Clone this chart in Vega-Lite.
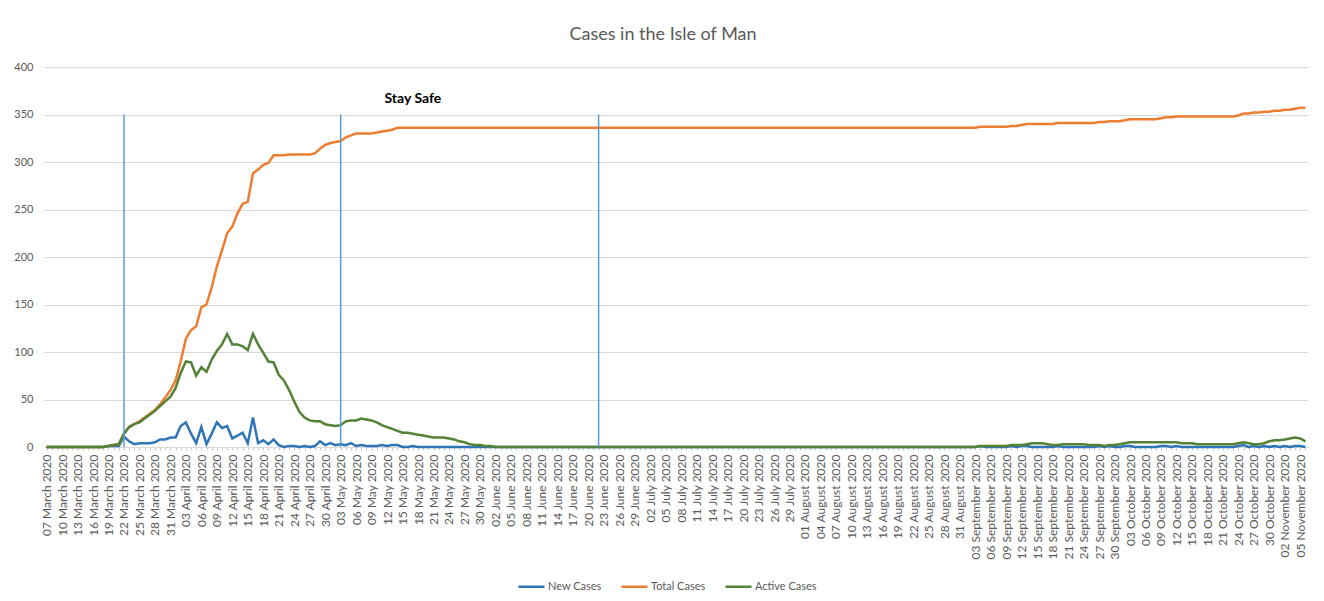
{
"$schema": "https://vega.github.io/schema/vega-lite/v6.json",
"width": 1264, "height": 380,
"autosize": {"type": "none"},
"padding": {"left": 44, "top": 67, "right": 16, "bottom": 154},
"background": "white",
"title": {"text": "Cases in the Isle of Man", "fontSize": 18, "font": "Lato", "fontWeight": "normal", "color": "#595959", "offset": 17, "anchor": "middle", "dx": -13},
"config": {"view": {"stroke": null}},
"datasets": {
"cases": [
{"date":"2020-03-07","New Cases":0,"Total Cases":0,"Active Cases":0},
{"date":"2020-03-08","New Cases":0,"Total Cases":0,"Active Cases":0},
{"date":"2020-03-09","New Cases":0,"Total Cases":0,"Active Cases":0},
{"date":"2020-03-10","New Cases":0,"Total Cases":0,"Active Cases":0},
{"date":"2020-03-11","New Cases":0,"Total Cases":0,"Active Cases":0},
{"date":"2020-03-12","New Cases":0,"Total Cases":0,"Active Cases":0},
{"date":"2020-03-13","New Cases":0,"Total Cases":0,"Active Cases":0},
{"date":"2020-03-14","New Cases":0,"Total Cases":0,"Active Cases":0},
{"date":"2020-03-15","New Cases":0,"Total Cases":0,"Active Cases":0},
{"date":"2020-03-16","New Cases":0,"Total Cases":0,"Active Cases":0},
{"date":"2020-03-17","New Cases":0,"Total Cases":0,"Active Cases":0},
{"date":"2020-03-18","New Cases":0,"Total Cases":0,"Active Cases":0},
{"date":"2020-03-19","New Cases":1,"Total Cases":1,"Active Cases":1},
{"date":"2020-03-20","New Cases":1,"Total Cases":2,"Active Cases":2},
{"date":"2020-03-21","New Cases":1,"Total Cases":3,"Active Cases":3},
{"date":"2020-03-22","New Cases":11,"Total Cases":14,"Active Cases":14},
{"date":"2020-03-23","New Cases":6,"Total Cases":21,"Active Cases":21},
{"date":"2020-03-24","New Cases":3,"Total Cases":24,"Active Cases":24},
{"date":"2020-03-25","New Cases":4,"Total Cases":27,"Active Cases":26},
{"date":"2020-03-26","New Cases":4,"Total Cases":31,"Active Cases":30},
{"date":"2020-03-27","New Cases":4,"Total Cases":35,"Active Cases":34},
{"date":"2020-03-28","New Cases":5,"Total Cases":39,"Active Cases":38},
{"date":"2020-03-29","New Cases":8,"Total Cases":45,"Active Cases":43},
{"date":"2020-03-30","New Cases":8,"Total Cases":52,"Active Cases":48},
{"date":"2020-03-31","New Cases":10,"Total Cases":60,"Active Cases":53},
{"date":"2020-04-01","New Cases":10,"Total Cases":70,"Active Cases":62},
{"date":"2020-04-02","New Cases":22,"Total Cases":90,"Active Cases":78},
{"date":"2020-04-03","New Cases":26,"Total Cases":114,"Active Cases":90},
{"date":"2020-04-04","New Cases":14,"Total Cases":123,"Active Cases":89},
{"date":"2020-04-05","New Cases":4,"Total Cases":127,"Active Cases":75},
{"date":"2020-04-06","New Cases":21,"Total Cases":147,"Active Cases":84},
{"date":"2020-04-07","New Cases":3,"Total Cases":150,"Active Cases":79},
{"date":"2020-04-08","New Cases":14,"Total Cases":168,"Active Cases":92},
{"date":"2020-04-09","New Cases":26,"Total Cases":190,"Active Cases":101},
{"date":"2020-04-10","New Cases":20,"Total Cases":207,"Active Cases":108},
{"date":"2020-04-11","New Cases":22,"Total Cases":225,"Active Cases":119},
{"date":"2020-04-12","New Cases":9,"Total Cases":232,"Active Cases":108},
{"date":"2020-04-13","New Cases":12,"Total Cases":246,"Active Cases":108},
{"date":"2020-04-14","New Cases":15,"Total Cases":256,"Active Cases":106},
{"date":"2020-04-15","New Cases":4,"Total Cases":258,"Active Cases":102},
{"date":"2020-04-16","New Cases":31,"Total Cases":288,"Active Cases":119},
{"date":"2020-04-17","New Cases":4,"Total Cases":292,"Active Cases":108},
{"date":"2020-04-18","New Cases":7,"Total Cases":297,"Active Cases":99},
{"date":"2020-04-19","New Cases":3,"Total Cases":299,"Active Cases":90},
{"date":"2020-04-20","New Cases":8,"Total Cases":307,"Active Cases":89},
{"date":"2020-04-21","New Cases":2,"Total Cases":307,"Active Cases":76},
{"date":"2020-04-22","New Cases":0,"Total Cases":307,"Active Cases":70},
{"date":"2020-04-23","New Cases":1,"Total Cases":308,"Active Cases":60},
{"date":"2020-04-24","New Cases":1,"Total Cases":308,"Active Cases":48},
{"date":"2020-04-25","New Cases":0,"Total Cases":308,"Active Cases":37},
{"date":"2020-04-26","New Cases":1,"Total Cases":308,"Active Cases":31},
{"date":"2020-04-27","New Cases":0,"Total Cases":308,"Active Cases":28},
{"date":"2020-04-28","New Cases":1,"Total Cases":309,"Active Cases":27},
{"date":"2020-04-29","New Cases":6,"Total Cases":314,"Active Cases":27},
{"date":"2020-04-30","New Cases":2,"Total Cases":318,"Active Cases":24},
{"date":"2020-05-01","New Cases":4,"Total Cases":320,"Active Cases":23},
{"date":"2020-05-02","New Cases":2,"Total Cases":321,"Active Cases":22},
{"date":"2020-05-03","New Cases":3,"Total Cases":322,"Active Cases":23},
{"date":"2020-05-04","New Cases":2,"Total Cases":326,"Active Cases":27},
{"date":"2020-05-05","New Cases":4,"Total Cases":328,"Active Cases":28},
{"date":"2020-05-06","New Cases":1,"Total Cases":330,"Active Cases":28},
{"date":"2020-05-07","New Cases":2,"Total Cases":330,"Active Cases":30},
{"date":"2020-05-08","New Cases":1,"Total Cases":330,"Active Cases":29},
{"date":"2020-05-09","New Cases":1,"Total Cases":330,"Active Cases":28},
{"date":"2020-05-10","New Cases":1,"Total Cases":331,"Active Cases":26},
{"date":"2020-05-11","New Cases":2,"Total Cases":332,"Active Cases":23},
{"date":"2020-05-12","New Cases":1,"Total Cases":333,"Active Cases":21},
{"date":"2020-05-13","New Cases":2,"Total Cases":334,"Active Cases":19},
{"date":"2020-05-14","New Cases":2,"Total Cases":336,"Active Cases":17},
{"date":"2020-05-15","New Cases":0,"Total Cases":336,"Active Cases":15},
{"date":"2020-05-16","New Cases":0,"Total Cases":336,"Active Cases":15},
{"date":"2020-05-17","New Cases":1,"Total Cases":336,"Active Cases":14},
{"date":"2020-05-18","New Cases":0,"Total Cases":336,"Active Cases":13},
{"date":"2020-05-19","New Cases":0,"Total Cases":336,"Active Cases":12},
{"date":"2020-05-20","New Cases":0,"Total Cases":336,"Active Cases":11},
{"date":"2020-05-21","New Cases":0,"Total Cases":336,"Active Cases":10},
{"date":"2020-05-22","New Cases":0,"Total Cases":336,"Active Cases":10},
{"date":"2020-05-23","New Cases":0,"Total Cases":336,"Active Cases":10},
{"date":"2020-05-24","New Cases":0,"Total Cases":336,"Active Cases":9},
{"date":"2020-05-25","New Cases":0,"Total Cases":336,"Active Cases":8},
{"date":"2020-05-26","New Cases":0,"Total Cases":336,"Active Cases":6},
{"date":"2020-05-27","New Cases":0,"Total Cases":336,"Active Cases":5},
{"date":"2020-05-28","New Cases":0,"Total Cases":336,"Active Cases":3},
{"date":"2020-05-29","New Cases":0,"Total Cases":336,"Active Cases":2},
{"date":"2020-05-30","New Cases":0,"Total Cases":336,"Active Cases":2},
{"date":"2020-05-31","New Cases":0,"Total Cases":336,"Active Cases":1},
{"date":"2020-06-01","New Cases":0,"Total Cases":336,"Active Cases":1},
{"date":"2020-06-02","New Cases":0,"Total Cases":336,"Active Cases":0},
{"date":"2020-06-03","New Cases":0,"Total Cases":336,"Active Cases":0},
{"date":"2020-06-04","New Cases":0,"Total Cases":336,"Active Cases":0},
{"date":"2020-06-05","New Cases":0,"Total Cases":336,"Active Cases":0},
{"date":"2020-06-06","New Cases":0,"Total Cases":336,"Active Cases":0},
{"date":"2020-06-07","New Cases":0,"Total Cases":336,"Active Cases":0},
{"date":"2020-06-08","New Cases":0,"Total Cases":336,"Active Cases":0},
{"date":"2020-06-09","New Cases":0,"Total Cases":336,"Active Cases":0},
{"date":"2020-06-10","New Cases":0,"Total Cases":336,"Active Cases":0},
{"date":"2020-06-11","New Cases":0,"Total Cases":336,"Active Cases":0},
{"date":"2020-06-12","New Cases":0,"Total Cases":336,"Active Cases":0},
{"date":"2020-06-13","New Cases":0,"Total Cases":336,"Active Cases":0},
{"date":"2020-06-14","New Cases":0,"Total Cases":336,"Active Cases":0},
{"date":"2020-06-15","New Cases":0,"Total Cases":336,"Active Cases":0},
{"date":"2020-06-16","New Cases":0,"Total Cases":336,"Active Cases":0},
{"date":"2020-06-17","New Cases":0,"Total Cases":336,"Active Cases":0},
{"date":"2020-06-18","New Cases":0,"Total Cases":336,"Active Cases":0},
{"date":"2020-06-19","New Cases":0,"Total Cases":336,"Active Cases":0},
{"date":"2020-06-20","New Cases":0,"Total Cases":336,"Active Cases":0},
{"date":"2020-06-21","New Cases":0,"Total Cases":336,"Active Cases":0},
{"date":"2020-06-22","New Cases":0,"Total Cases":336,"Active Cases":0},
{"date":"2020-06-23","New Cases":0,"Total Cases":336,"Active Cases":0},
{"date":"2020-06-24","New Cases":0,"Total Cases":336,"Active Cases":0},
{"date":"2020-06-25","New Cases":0,"Total Cases":336,"Active Cases":0},
{"date":"2020-06-26","New Cases":0,"Total Cases":336,"Active Cases":0},
{"date":"2020-06-27","New Cases":0,"Total Cases":336,"Active Cases":0},
{"date":"2020-06-28","New Cases":0,"Total Cases":336,"Active Cases":0},
{"date":"2020-06-29","New Cases":0,"Total Cases":336,"Active Cases":0},
{"date":"2020-06-30","New Cases":0,"Total Cases":336,"Active Cases":0},
{"date":"2020-07-01","New Cases":0,"Total Cases":336,"Active Cases":0},
{"date":"2020-07-02","New Cases":0,"Total Cases":336,"Active Cases":0},
{"date":"2020-07-03","New Cases":0,"Total Cases":336,"Active Cases":0},
{"date":"2020-07-04","New Cases":0,"Total Cases":336,"Active Cases":0},
{"date":"2020-07-05","New Cases":0,"Total Cases":336,"Active Cases":0},
{"date":"2020-07-06","New Cases":0,"Total Cases":336,"Active Cases":0},
{"date":"2020-07-07","New Cases":0,"Total Cases":336,"Active Cases":0},
{"date":"2020-07-08","New Cases":0,"Total Cases":336,"Active Cases":0},
{"date":"2020-07-09","New Cases":0,"Total Cases":336,"Active Cases":0},
{"date":"2020-07-10","New Cases":0,"Total Cases":336,"Active Cases":0},
{"date":"2020-07-11","New Cases":0,"Total Cases":336,"Active Cases":0},
{"date":"2020-07-12","New Cases":0,"Total Cases":336,"Active Cases":0},
{"date":"2020-07-13","New Cases":0,"Total Cases":336,"Active Cases":0},
{"date":"2020-07-14","New Cases":0,"Total Cases":336,"Active Cases":0},
{"date":"2020-07-15","New Cases":0,"Total Cases":336,"Active Cases":0},
{"date":"2020-07-16","New Cases":0,"Total Cases":336,"Active Cases":0},
{"date":"2020-07-17","New Cases":0,"Total Cases":336,"Active Cases":0},
{"date":"2020-07-18","New Cases":0,"Total Cases":336,"Active Cases":0},
{"date":"2020-07-19","New Cases":0,"Total Cases":336,"Active Cases":0},
{"date":"2020-07-20","New Cases":0,"Total Cases":336,"Active Cases":0},
{"date":"2020-07-21","New Cases":0,"Total Cases":336,"Active Cases":0},
{"date":"2020-07-22","New Cases":0,"Total Cases":336,"Active Cases":0},
{"date":"2020-07-23","New Cases":0,"Total Cases":336,"Active Cases":0},
{"date":"2020-07-24","New Cases":0,"Total Cases":336,"Active Cases":0},
{"date":"2020-07-25","New Cases":0,"Total Cases":336,"Active Cases":0},
{"date":"2020-07-26","New Cases":0,"Total Cases":336,"Active Cases":0},
{"date":"2020-07-27","New Cases":0,"Total Cases":336,"Active Cases":0},
{"date":"2020-07-28","New Cases":0,"Total Cases":336,"Active Cases":0},
{"date":"2020-07-29","New Cases":0,"Total Cases":336,"Active Cases":0},
{"date":"2020-07-30","New Cases":0,"Total Cases":336,"Active Cases":0},
{"date":"2020-07-31","New Cases":0,"Total Cases":336,"Active Cases":0},
{"date":"2020-08-01","New Cases":0,"Total Cases":336,"Active Cases":0},
{"date":"2020-08-02","New Cases":0,"Total Cases":336,"Active Cases":0},
{"date":"2020-08-03","New Cases":0,"Total Cases":336,"Active Cases":0},
{"date":"2020-08-04","New Cases":0,"Total Cases":336,"Active Cases":0},
{"date":"2020-08-05","New Cases":0,"Total Cases":336,"Active Cases":0},
{"date":"2020-08-06","New Cases":0,"Total Cases":336,"Active Cases":0},
{"date":"2020-08-07","New Cases":0,"Total Cases":336,"Active Cases":0},
{"date":"2020-08-08","New Cases":0,"Total Cases":336,"Active Cases":0},
{"date":"2020-08-09","New Cases":0,"Total Cases":336,"Active Cases":0},
{"date":"2020-08-10","New Cases":0,"Total Cases":336,"Active Cases":0},
{"date":"2020-08-11","New Cases":0,"Total Cases":336,"Active Cases":0},
{"date":"2020-08-12","New Cases":0,"Total Cases":336,"Active Cases":0},
{"date":"2020-08-13","New Cases":0,"Total Cases":336,"Active Cases":0},
{"date":"2020-08-14","New Cases":0,"Total Cases":336,"Active Cases":0},
{"date":"2020-08-15","New Cases":0,"Total Cases":336,"Active Cases":0},
{"date":"2020-08-16","New Cases":0,"Total Cases":336,"Active Cases":0},
{"date":"2020-08-17","New Cases":0,"Total Cases":336,"Active Cases":0},
{"date":"2020-08-18","New Cases":0,"Total Cases":336,"Active Cases":0},
{"date":"2020-08-19","New Cases":0,"Total Cases":336,"Active Cases":0},
{"date":"2020-08-20","New Cases":0,"Total Cases":336,"Active Cases":0},
{"date":"2020-08-21","New Cases":0,"Total Cases":336,"Active Cases":0},
{"date":"2020-08-22","New Cases":0,"Total Cases":336,"Active Cases":0},
{"date":"2020-08-23","New Cases":0,"Total Cases":336,"Active Cases":0},
{"date":"2020-08-24","New Cases":0,"Total Cases":336,"Active Cases":0},
{"date":"2020-08-25","New Cases":0,"Total Cases":336,"Active Cases":0},
{"date":"2020-08-26","New Cases":0,"Total Cases":336,"Active Cases":0},
{"date":"2020-08-27","New Cases":0,"Total Cases":336,"Active Cases":0},
{"date":"2020-08-28","New Cases":0,"Total Cases":336,"Active Cases":0},
{"date":"2020-08-29","New Cases":0,"Total Cases":336,"Active Cases":0},
{"date":"2020-08-30","New Cases":0,"Total Cases":336,"Active Cases":0},
{"date":"2020-08-31","New Cases":0,"Total Cases":336,"Active Cases":0},
{"date":"2020-09-01","New Cases":0,"Total Cases":336,"Active Cases":0},
{"date":"2020-09-02","New Cases":0,"Total Cases":336,"Active Cases":0},
{"date":"2020-09-03","New Cases":0,"Total Cases":336,"Active Cases":0},
{"date":"2020-09-04","New Cases":1,"Total Cases":337,"Active Cases":1},
{"date":"2020-09-05","New Cases":0,"Total Cases":337,"Active Cases":1},
{"date":"2020-09-06","New Cases":0,"Total Cases":337,"Active Cases":1},
{"date":"2020-09-07","New Cases":0,"Total Cases":337,"Active Cases":1},
{"date":"2020-09-08","New Cases":0,"Total Cases":337,"Active Cases":1},
{"date":"2020-09-09","New Cases":0,"Total Cases":337,"Active Cases":1},
{"date":"2020-09-10","New Cases":1,"Total Cases":338,"Active Cases":2},
{"date":"2020-09-11","New Cases":0,"Total Cases":338,"Active Cases":2},
{"date":"2020-09-12","New Cases":1,"Total Cases":339,"Active Cases":2},
{"date":"2020-09-13","New Cases":1,"Total Cases":340,"Active Cases":3},
{"date":"2020-09-14","New Cases":0,"Total Cases":340,"Active Cases":4},
{"date":"2020-09-15","New Cases":0,"Total Cases":340,"Active Cases":4},
{"date":"2020-09-16","New Cases":0,"Total Cases":340,"Active Cases":4},
{"date":"2020-09-17","New Cases":0,"Total Cases":340,"Active Cases":3},
{"date":"2020-09-18","New Cases":0,"Total Cases":340,"Active Cases":2},
{"date":"2020-09-19","New Cases":1,"Total Cases":341,"Active Cases":2},
{"date":"2020-09-20","New Cases":0,"Total Cases":341,"Active Cases":3},
{"date":"2020-09-21","New Cases":0,"Total Cases":341,"Active Cases":3},
{"date":"2020-09-22","New Cases":0,"Total Cases":341,"Active Cases":3},
{"date":"2020-09-23","New Cases":0,"Total Cases":341,"Active Cases":3},
{"date":"2020-09-24","New Cases":0,"Total Cases":341,"Active Cases":3},
{"date":"2020-09-25","New Cases":0,"Total Cases":341,"Active Cases":2},
{"date":"2020-09-26","New Cases":0,"Total Cases":341,"Active Cases":2},
{"date":"2020-09-27","New Cases":1,"Total Cases":342,"Active Cases":2},
{"date":"2020-09-28","New Cases":0,"Total Cases":342,"Active Cases":1},
{"date":"2020-09-29","New Cases":1,"Total Cases":343,"Active Cases":2},
{"date":"2020-09-30","New Cases":0,"Total Cases":343,"Active Cases":2},
{"date":"2020-10-01","New Cases":0,"Total Cases":343,"Active Cases":3},
{"date":"2020-10-02","New Cases":1,"Total Cases":344,"Active Cases":4},
{"date":"2020-10-03","New Cases":1,"Total Cases":345,"Active Cases":5},
{"date":"2020-10-04","New Cases":0,"Total Cases":345,"Active Cases":5},
{"date":"2020-10-05","New Cases":0,"Total Cases":345,"Active Cases":5},
{"date":"2020-10-06","New Cases":0,"Total Cases":345,"Active Cases":5},
{"date":"2020-10-07","New Cases":0,"Total Cases":345,"Active Cases":5},
{"date":"2020-10-08","New Cases":0,"Total Cases":345,"Active Cases":5},
{"date":"2020-10-09","New Cases":1,"Total Cases":346,"Active Cases":5},
{"date":"2020-10-10","New Cases":1,"Total Cases":347,"Active Cases":5},
{"date":"2020-10-11","New Cases":0,"Total Cases":347,"Active Cases":5},
{"date":"2020-10-12","New Cases":1,"Total Cases":348,"Active Cases":5},
{"date":"2020-10-13","New Cases":0,"Total Cases":348,"Active Cases":4},
{"date":"2020-10-14","New Cases":0,"Total Cases":348,"Active Cases":4},
{"date":"2020-10-15","New Cases":0,"Total Cases":348,"Active Cases":4},
{"date":"2020-10-16","New Cases":0,"Total Cases":348,"Active Cases":3},
{"date":"2020-10-17","New Cases":0,"Total Cases":348,"Active Cases":3},
{"date":"2020-10-18","New Cases":0,"Total Cases":348,"Active Cases":3},
{"date":"2020-10-19","New Cases":0,"Total Cases":348,"Active Cases":3},
{"date":"2020-10-20","New Cases":0,"Total Cases":348,"Active Cases":3},
{"date":"2020-10-21","New Cases":0,"Total Cases":348,"Active Cases":3},
{"date":"2020-10-22","New Cases":0,"Total Cases":348,"Active Cases":3},
{"date":"2020-10-23","New Cases":0,"Total Cases":348,"Active Cases":3},
{"date":"2020-10-24","New Cases":1,"Total Cases":349,"Active Cases":4},
{"date":"2020-10-25","New Cases":2,"Total Cases":351,"Active Cases":5},
{"date":"2020-10-26","New Cases":0,"Total Cases":351,"Active Cases":4},
{"date":"2020-10-27","New Cases":1,"Total Cases":352,"Active Cases":3},
{"date":"2020-10-28","New Cases":0,"Total Cases":352,"Active Cases":3},
{"date":"2020-10-29","New Cases":1,"Total Cases":353,"Active Cases":4},
{"date":"2020-10-30","New Cases":0,"Total Cases":353,"Active Cases":6},
{"date":"2020-10-31","New Cases":1,"Total Cases":354,"Active Cases":7},
{"date":"2020-11-01","New Cases":0,"Total Cases":354,"Active Cases":7},
{"date":"2020-11-02","New Cases":1,"Total Cases":355,"Active Cases":8},
{"date":"2020-11-03","New Cases":0,"Total Cases":355,"Active Cases":9},
{"date":"2020-11-04","New Cases":1,"Total Cases":356,"Active Cases":10},
{"date":"2020-11-05","New Cases":1,"Total Cases":357,"Active Cases":9},
{"date":"2020-11-06","New Cases":0,"Total Cases":357,"Active Cases":6}
],
"events": [
{"date":"2020-03-22"},
{"date":"2020-05-03"},
{"date":"2020-06-22"}
],
"notes": [
{"date":"2020-05-17","label":"Stay Safe"}
]
},
"layer": [
{
"data": {"name": "cases"},
"transform": [{"fold": ["New Cases","Total Cases","Active Cases"], "as": ["series","value"]}],
"mark": {"type": "line", "strokeWidth": 2.5},
"encoding": {
"x": {"field": "date", "type": "temporal",
 "scale": {"type": "utc", "domain": [{"year":2020,"month":3,"date":6,"hours":12,"utc":true},{"year":2020,"month":11,"date":6,"hours":12,"utc":true}]},
 "axis": {"title": null, "grid": false, "labelAngle": 270, "labelFont": "Lato", "labelFontSize": 12, "labelColor": "#595959",
  "labelOverlap": false, "labelBound": false, "labelFlush": false, "labelPadding": 4,
  "tickCount": {"interval": "day", "step": 1}, "tickSize": 3, "tickColor": "#c8c8c8", "domainColor": "#d9d9d9",
  "labelExpr": "(round((datum.value - utc(2020,2,7)) / 86400000) % 3 == 0) ? utcFormat(datum.value, '%d %B %Y') : ''"}},
"y": {"field": "value", "type": "quantitative", "scale": {"domain": [0, 400]},
 "axis": {"title": null, "values": [0,50,100,150,200,250,300,350,400], "grid": true, "gridColor": "#d9d9d9", "domain": false, "ticks": false,
  "labelFont": "Lato", "labelFontSize": 11, "labelColor": "#595959", "labelPadding": 11}},
"color": {"field": "series", "type": "nominal",
 "scale": {"domain": ["New Cases","Total Cases","Active Cases"], "range": ["#2E75B6","#ED7D31","#538135"]},
 "legend": {"title": null, "orient": "none", "legendX": 473, "legendY": 505, "direction": "horizontal", "symbolType": "stroke", "symbolSize": 676, "symbolStrokeWidth": 2.5, "labelFont": "Lato", "labelFontSize": 11, "labelColor": "#595959", "columnPadding": 14, "labelOffset": 2}}
}
},
{
"data": {"name": "events"},
"mark": {"type": "rule", "color": "#5B9BD5", "strokeWidth": 1.5},
"encoding": {
"x": {"field": "date", "type": "temporal"},
"y": {"datum": 0},
"y2": {"datum": 350}
}
},
{
"data": {"name": "notes"},
"mark": {"type": "text", "font": "Lato", "fontWeight": "bold", "fontSize": 14, "color": "#000000", "align": "center", "baseline": "middle"},
"encoding": {
"x": {"field": "date", "type": "temporal"},
"y": {"datum": 366},
"text": {"field": "label"}
}
}
]
}
